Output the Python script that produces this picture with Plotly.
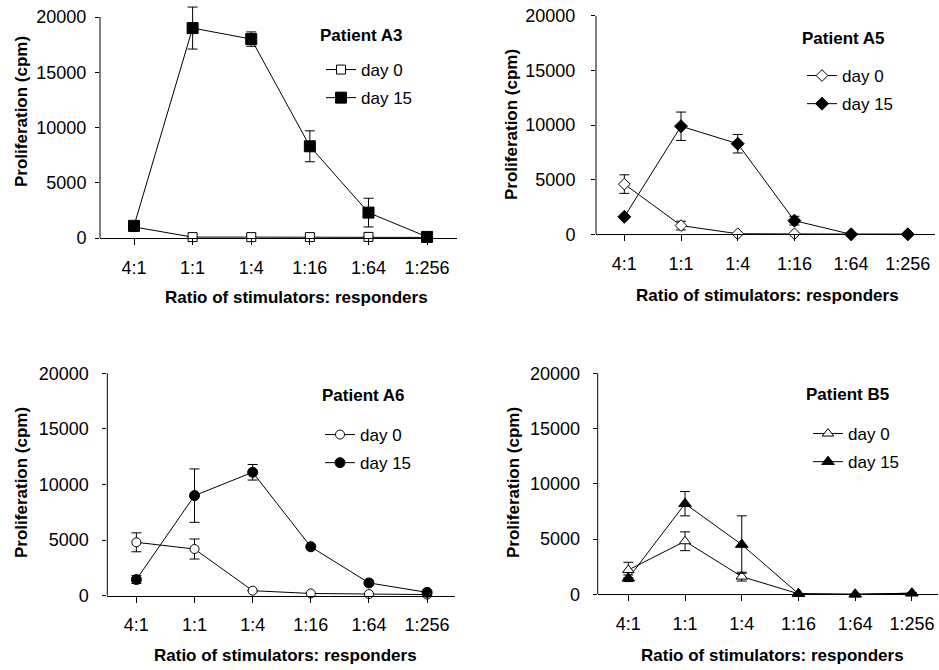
import plotly.graph_objects as go

W, H = 939, 670

ratios = ["4:1", "1:1", "1:4", "1:16", "1:64", "1:256"]
y_ticks = [0, 5000, 10000, 15000, 20000]
y_tick_text = ["0", "5000", "10000", "15000", "20000"]
y_axis_top = 20000
y_view_top = 21000
patients = ["Patient A3", "Patient A5", "Patient A6", "Patient B5"]
series_names = ["day 0", "day 15"]

a3_day0 = [1000, 80, 80, 80, 100, 50]
a3_day0_err = [0, 0, 0, 0, 0, 0]
a3_day15 = [1100, 19000, 18000, 8300, 2300, 100]
a3_day15_err = [300, 1900, 650, 1400, 1300, 0]

a5_day0 = [4600, 800, 50, 50, 0, 0]
a5_day0_err = [850, 400, 0, 0, 0, 0]
a5_day15 = [1600, 9900, 8300, 1250, 0, 0]
a5_day15_err = [0, 1300, 850, 400, 0, 0]

a6_day0 = [4800, 4200, 450, 200, 150, 100]
a6_day0_err = [850, 900, 0, 0, 0, 0]
a6_day15 = [1450, 9000, 11100, 4400, 1150, 300]
a6_day15_err = [350, 2400, 700, 0, 0, 0]

b5_day0 = [2200, 4800, 1600, 50, 0, 100]
b5_day0_err = [700, 850, 400, 0, 0, 0]
b5_day15 = [1450, 8200, 4500, 50, 0, 100]
b5_day15_err = [300, 1100, 2600, 0, 0, 0]

data = [
    (a3_day0, a3_day0_err, a3_day15, a3_day15_err),
    (a5_day0, a5_day0_err, a5_day15, a5_day15_err),
    (a6_day0, a6_day0_err, a6_day15, a6_day15_err),
    (b5_day0, b5_day0_err, b5_day15, b5_day15_err),
]

# layout in pixels (t = pixel row of the 20000 tick, b = pixel row of 0)
panels = [
    dict(l=100, r=457, t=17, b=238, xr=[-0.58, 5.51], sym="square", s0=9, s1=11,
         title=(318, 35), leg=(321, 52), xt=(296, 297), yt=(22, 112), ysd=5),
    dict(l=596, r=935, t=16, b=234.3, xr=[-0.5, 5.48], sym="diamond", s0=9, s1=10,
         title=(800, 38), leg=(802, 58), xt=(767, 295), yt=(512, 125), ysd=12),
    dict(l=107.3, r=455, t=373.3, b=595.7, xr=[-0.5, 5.48], sym="circle", s0=9, s1=10,
         title=(320, 395), leg=(320, 417), xt=(285, 655), yt=(22, 483), ysd=10),
    dict(l=597.7, r=938, t=373.3, b=594.3, xr=[-0.54, 5.46], sym="triangle-up", s0=10, s1=11,
         title=(804, 394), leg=(808, 416), xt=(772, 655), yt=(514, 483), ysd=9),
]

FONT = "Arial, Liberation Sans, sans-serif"

def px(x):
    return x / W

def py(y):
    return 1 - y / H

fig = go.Figure()
layout = dict(
    width=W, height=H, margin=dict(l=0, r=0, t=0, b=0, autoexpand=False),
    paper_bgcolor="white", plot_bgcolor="white",
    font=dict(family=FONT, size=18, color="black"),
    annotations=[], shapes=[],
)

for i, (p, d, name) in enumerate(zip(panels, data, patients)):
    n = "" if i == 0 else str(i + 1)
    xa, ya = "x" + n, "y" + n
    leg = "legend" + n
    d0, e0, d15, e15 = d
    for k, (vals, errs) in enumerate(((d0, e0), (d15, e15))):
        fill = "white" if k == 0 else "black"
        fig.add_trace(go.Scatter(
            x=ratios, y=vals, name=series_names[k], mode="lines+markers",
            xaxis=xa, yaxis=ya, legend=leg, legendgroup=f"g{i}_{k}", cliponaxis=False,
            line=dict(color="black", width=1),
            marker=dict(symbol=p["sym"], size=p["s0"] if k == 0 else p["s1"],
                        color=fill, line=dict(color="black", width=1)),
            error_y=dict(type="data", array=errs, visible=True, color="black",
                         thickness=1, width=5),
        ))
    # extend the view slightly above 20000 so error bars are not clipped
    top_px = p["t"] - (y_view_top - y_axis_top) / y_axis_top * (p["b"] - p["t"])
    layout["xaxis" + n] = dict(
        domain=[px(p["l"]), px(p["r"])], anchor=ya, type="category",
        range=p["xr"], showline=True, linecolor="black", linewidth=1,
        ticks="outside", ticklen=6, tickcolor="black", showgrid=False,
        zeroline=False, ticklabelstandoff=7, tickfont=dict(size=18), automargin=False,
    )
    layout["yaxis" + n] = dict(
        domain=[py(p["b"]), py(top_px)], anchor=xa, range=[0, y_view_top],
        tickvals=y_ticks, ticktext=y_tick_text, showline=False,
        ticks="outside", ticklen=4, tickcolor="black", showgrid=False,
        zeroline=False, ticklabelstandoff=p["ysd"], tickfont=dict(size=18), automargin=False,
    )
    layout["shapes"].append(dict(
        type="line", xref=xa + " domain", yref=ya, x0=0, x1=0, y0=0, y1=y_axis_top,
        line=dict(color="black", width=1), layer="above"))
    layout[leg] = dict(
        x=px(p["leg"][0]), y=py(p["leg"][1]), xanchor="left", yanchor="top",
        bgcolor="rgba(0,0,0,0)", borderwidth=0, tracegroupgap=3,
        font=dict(size=17), traceorder="grouped",
    )
    layout["annotations"].append(dict(
        text="<b>" + name + "</b>", x=px(p["title"][0]), y=py(p["title"][1]),
        xref="paper", yref="paper", showarrow=False, xanchor="left", yanchor="middle",
        font=dict(size=17)))
    layout["annotations"].append(dict(
        text="<b>Ratio of stimulators: responders</b>", x=px(p["xt"][0]), y=py(p["xt"][1]),
        xref="paper", yref="paper", showarrow=False, xanchor="center", yanchor="middle",
        font=dict(size=17)))
    layout["annotations"].append(dict(
        text="<b>Proliferation (cpm)</b>", x=px(p["yt"][0]), y=py(p["yt"][1]),
        xref="paper", yref="paper", showarrow=False, xanchor="center", yanchor="middle",
        textangle=-90, font=dict(size=17)))

fig.update_layout(**layout)
fig.write_html("out.html", config={"displayModeBar": False},
               post_script="document.body.style.margin='0';")
